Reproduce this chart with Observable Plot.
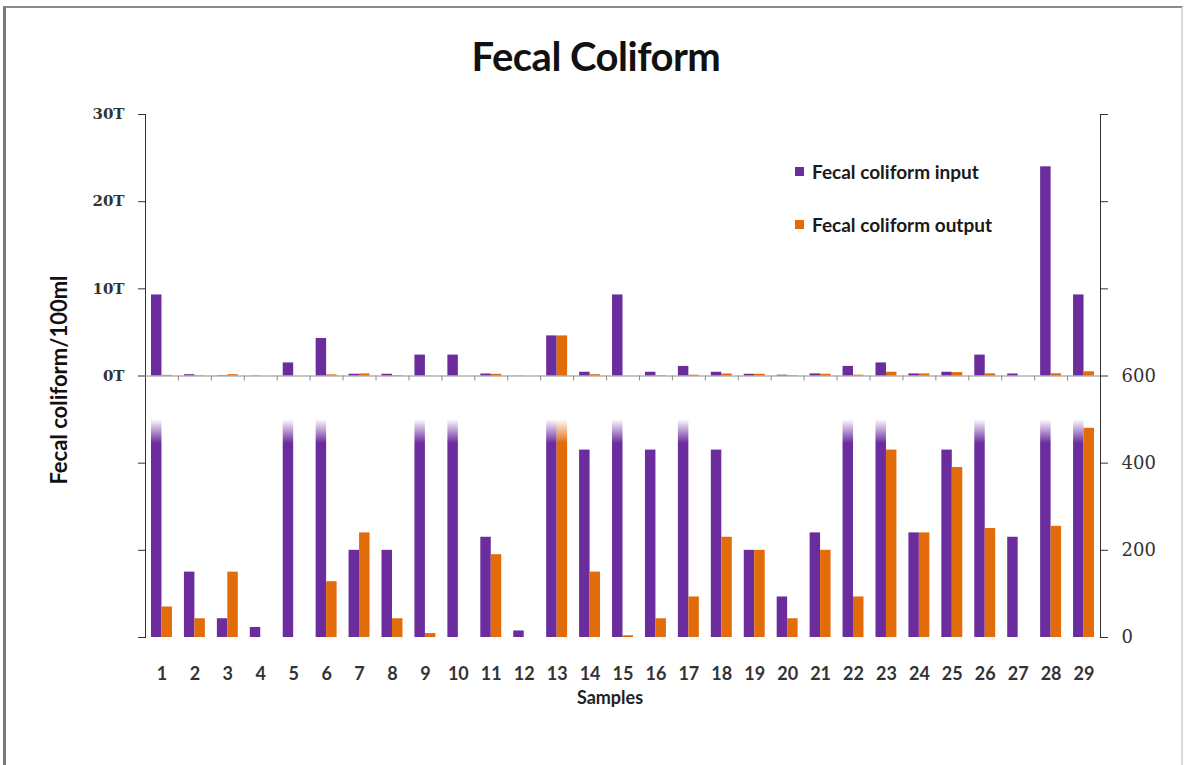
<!DOCTYPE html>
<html>
<head>
<meta charset="utf-8">
<script src="https://cdn.jsdelivr.net/npm/d3@7"></script>
<script src="https://cdn.jsdelivr.net/npm/@observablehq/plot@0.6"></script>
<style>
  body { margin: 0; background: #fff; }
  #frame { position: relative; width: 1184px; height: 765px; overflow: hidden; background: #fff;
           font-family: Lato, "Open Sans", sans-serif; color: #1a1a1a; }
  #border { position: absolute; left: 3px; top: 6px; width: 1175px; height: 800px;
            border-top: 2px solid #8a8a8a; border-left: 3px solid #7a7a7a; border-right: 2px solid #d8d8d8; }
  .layer { position: absolute; left: 0; top: 0; }
  #title { position: absolute; left: 0; top: 34px; width: 1192px; text-align: center;
           font-size: 40px; font-weight: bold; line-height: 44px; color: #111; letter-spacing: -0.5px; }
  #ylabel { position: absolute; left: 58px; top: 380px; transform: translate(-50%, -50%) rotate(-90deg);
            white-space: nowrap; font-size: 22px; font-weight: bold; color: #111; }
  #xlabel { position: absolute; left: 610px; top: 697px; transform: translate(-50%, -50%);
            font-size: 18px; font-weight: bold; color: #222; }
  #legend { position: absolute; left: 795px; top: 157px; font-size: 19px; font-weight: bold; color: #1a1a1a; }
  #legend .item { display: flex; align-items: center; height: 28px; margin-bottom: 25px; }
  #legend .sw { width: 9px; height: 9px; margin-right: 8px; }
  #chart svg [aria-label^="y-axis"] text { font-family: "DejaVu Serif", "Liberation Serif", serif; }
  #chart svg.upper [aria-label^="y-axis"] text { font-size: 15px; font-weight: bold; }
  #chart svg.lower [aria-label^="y-axis"] text { font-size: 18px; }
  #chart svg [aria-label^="x-axis"] text { font-family: Lato, sans-serif; font-weight: bold; font-size: 18px; }
</style>
</head>
<body>
<div id="frame">
  <div id="border"></div>
  <div id="title">Fecal Coliform</div>
  <div id="chart"></div>
  <div id="legend"></div>
  <div id="ylabel">Fecal coliform/100ml</div>
  <div id="xlabel">Samples</div>
</div>
<svg width="0" height="0" style="position:absolute">
  <defs>
    <linearGradient id="fadePurple" x1="0" y1="0" x2="0" y2="1">
      <stop offset="0" stop-color="#6B2C9E" stop-opacity="0"/>
      <stop offset="0.11" stop-color="#6B2C9E" stop-opacity="1"/>
      <stop offset="1" stop-color="#6B2C9E" stop-opacity="1"/>
    </linearGradient>
    <linearGradient id="fadeOrange" x1="0" y1="0" x2="0" y2="1">
      <stop offset="0" stop-color="#E26B0A" stop-opacity="0"/>
      <stop offset="0.11" stop-color="#E26B0A" stop-opacity="1"/>
      <stop offset="1" stop-color="#E26B0A" stop-opacity="1"/>
    </linearGradient>
  </defs>
</svg>
<script>
// Fecal coliform counts per 100 ml, for each sample
const samples = ["1","2","3","4","5","6","7","8","9","10","11","12","13","14","15",
                 "16","17","18","19","20","21","22","23","24","25","26","27","28","29"];
const input  = [9300, 150, 43, 23, 1500, 4300, 200, 200, 2400, 2400, 230, 15, 4600, 430, 9300,
                430, 1100, 430, 200, 93, 240, 1100, 1500, 240, 430, 2400, 230, 24000, 9300];
const output = [70, 43, 150, 0, 0, 128, 240, 43, 9, 0, 190, 0, 4600, 150, 4,
                43, 93, 230, 200, 43, 200, 93, 430, 240, 390, 250, 0, 255, 480];
const seriesNames = ["Fecal coliform input", "Fecal coliform output"];
const colors = ["#6B2C9E", "#E26B0A"];

// tick values for the two value axes
const upperTicks = [-30000, -20000, -10000, 0, 10000, 20000, 30000]; // negatives only mark the lower panel
const lowerTicks = [0, 200, 400, 600, 800, 1000, 1200];
const lowerCap = 500;     // lower panel bars are cut here and faded out
const lowerMax = 600;     // highest labelled value of the lower panel

const rows = samples.map((s, i) => ({sample: s, input: input[i], output: output[i]}));

// shared frame geometry
const W = 1184, H = 700;
const M = {left: 145, right: 84, top: 114, bottom: 63};
const bw = (W - M.left - M.right) / samples.length;
const gap = 6;

const base = {
  width: W, height: H,
  marginLeft: M.left, marginRight: M.right, marginTop: M.top, marginBottom: M.bottom
};

// Upper panel: full range in thousands
const upper = Plot.plot({
  ...base,
  style: {background: "transparent", fontSize: "15px", fontWeight: "bold", color: "#333"},
  x: {domain: samples, padding: 0, round: false, axis: null},
  y: {domain: [-30000, 30000], ticks: upperTicks, tickSize: 7, tickPadding: 14, line: true, label: null,
      tickFormat: d => d >= 0 ? `${d / 1000}T` : ""},
  marks: [
    Plot.barY(rows, {x: "sample", y: "input", fill: colors[0], insetLeft: gap, insetRight: bw / 2}),
    Plot.barY(rows, {x: "sample", y: "output", fill: colors[1], insetLeft: bw / 2, insetRight: gap}),
    Plot.ruleY([0], {stroke: "#8c8c8c"}),
    Plot.ruleX(samples.slice(1), {x: d => d, dx: -bw / 2, y1: 0, y2: 0, insetBottom: -5, stroke: "#8c8c8c"})
  ]
});

// Lower panel: detail of the low counts, 0–600
const lower = Plot.plot({
  ...base,
  style: {background: "transparent", fontSize: "18px", color: "#333"},
  color: {type: "identity"},
  x: {domain: samples, padding: 0, round: false, tickSize: 0, tickPadding: 30, label: null},
  y: {domain: [0, 1200], axis: "right", ticks: lowerTicks, tickSize: 7, tickPadding: 14, line: true, label: null,
      tickFormat: d => d <= lowerMax ? d : ""},
  marks: [
    Plot.barY(rows, {x: "sample", y: d => Math.min(d.input, lowerCap),
      fill: d => d.input > lowerCap ? "url(#fadePurple)" : colors[0], insetLeft: gap, insetRight: bw / 2}),
    Plot.barY(rows, {x: "sample", y: d => Math.min(d.output, lowerCap),
      fill: d => d.output > lowerCap ? "url(#fadeOrange)" : colors[1], insetLeft: bw / 2, insetRight: gap})
  ]
});

upper.classList.add("upper");
lower.classList.add("lower");
const chart = document.getElementById("chart");
for (const svg of [lower, upper]) {
  svg.classList.add("layer");
  chart.appendChild(svg);
}

// legend
const legend = d3.select("#legend");
seriesNames.forEach((name, i) => {
  const item = legend.append("div").attr("class", "item");
  item.append("div").attr("class", "sw").style("background", colors[i]);
  item.append("span").text(name);
});
</script>
</body>
</html>
